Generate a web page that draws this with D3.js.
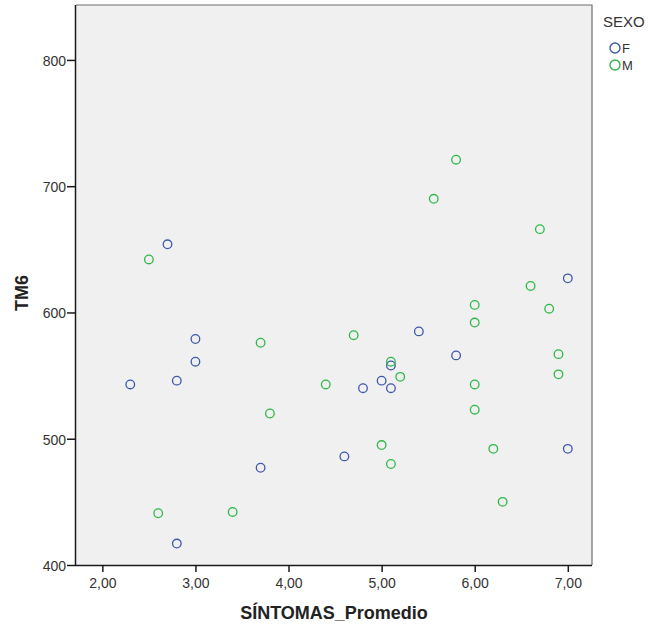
<!DOCTYPE html>
<html>
<head>
<meta charset="utf-8">
<script src="https://cdn.jsdelivr.net/npm/d3@7"></script>
<style>
  html, body { margin: 0; padding: 0; background: #fff; }
  svg { display: block; font-family: "Liberation Sans", Arial, sans-serif; }
</style>
</head>
<body>
<svg id="chart" width="649" height="627"></svg>
<script>
// SÍNTOMAS_Promedio (x) vs TM6 (y), grouped by SEXO
const femSintomas = [2.7, 3.0, 3.0, 2.3, 2.8, 5.4, 5.8, 5.1, 5.0, 5.1, 4.8, 4.6, 7.0, 7.0, 3.7, 2.8];
const femTM6      = [654, 579, 561, 543, 546, 585, 566, 558, 546, 540, 540, 486, 627, 492, 477, 417];
const masSintomas = [2.5, 3.7, 6.0, 6.0, 4.7, 5.1, 5.2, 4.4, 6.0, 6.0, 5.0, 5.1, 6.2, 5.8, 5.56, 6.7, 6.6, 6.8, 6.9, 6.9, 6.3, 2.6, 3.4, 3.8];
const masTM6      = [642, 576, 606, 592, 582, 561, 549, 543, 543, 523, 495, 480, 492, 721, 690, 666, 621, 603, 567, 551, 450, 441, 442, 520];
const groups = ["F", "M"];
const groupColors = ["#3e58ac", "#2eb848"];
const xTicks = [2, 3, 4, 5, 6, 7];
const yTicks = [400, 500, 600, 700, 800];

const svg = d3.select("#chart");
const plot = { left: 76, right: 592, top: 5, bottom: 565 };

const x = d3.scaleLinear().domain([1.717, 7.26]).range([plot.left, plot.right]);
const y = d3.scaleLinear().domain([400, 843.5]).range([plot.bottom, plot.top]);
const color = d3.scaleOrdinal().domain(groups).range(groupColors);

// plot background
svg.append("rect")
  .attr("x", plot.left).attr("y", plot.top)
  .attr("width", plot.right - plot.left).attr("height", plot.bottom - plot.top)
  .attr("fill", "#f0f0f0");

// top and right border
svg.append("path")
  .attr("d", `M${plot.left},${plot.top}H${plot.right}V${plot.bottom}`)
  .attr("fill", "none").attr("stroke", "#6e6e6e").attr("stroke-width", 1.2);

const fmt = d => d.toFixed(2).replace(".", ",");

// x axis
const gx = svg.append("g")
  .attr("transform", `translate(0,${plot.bottom})`)
  .call(d3.axisBottom(x).tickValues(xTicks).tickFormat(fmt).tickSize(7).tickSizeOuter(0));
gx.select(".domain").attr("stroke", "#1a1a1a").attr("stroke-width", 1.5)
  .attr("d", `M${plot.left},0.5H${plot.right}`);
gx.selectAll(".tick line").attr("stroke", "#1a1a1a").attr("stroke-width", 1.5);
gx.selectAll(".tick text").attr("font-size", 14).attr("fill", "#333")
  .attr("y", 23).attr("dy", 0)
  .attr("font-family", "Liberation Sans, Arial, sans-serif");

// y axis
const gy = svg.append("g")
  .attr("transform", `translate(${plot.left},0)`)
  .call(d3.axisLeft(y).tickValues(yTicks).tickFormat(d3.format("d")).tickSize(9).tickSizeOuter(0));
gy.select(".domain").attr("stroke", "#1a1a1a").attr("stroke-width", 1.5)
  .attr("d", `M-0.5,${plot.top}V${plot.bottom}`);
gy.selectAll(".tick line").attr("stroke", "#1a1a1a").attr("stroke-width", 1.5);
gy.selectAll(".tick text").attr("font-size", 14).attr("fill", "#333").attr("x", -10)
  .attr("dy", "0.38em")
  .attr("font-family", "Liberation Sans, Arial, sans-serif");

// axis titles
svg.append("text")
  .attr("x", (plot.left + plot.right) / 2).attr("y", 619)
  .attr("text-anchor", "middle").attr("font-size", 18).attr("font-weight", "bold")
  .attr("fill", "#222").text("SÍNTOMAS_Promedio");
svg.append("text")
  .attr("transform", "translate(28,293) rotate(-90)")
  .attr("text-anchor", "middle").attr("font-size", 18).attr("font-weight", "bold")
  .attr("fill", "#222").text("TM6");

// points
const points = [
  ...femSintomas.map((v, i) => ({ s: v, t: femTM6[i], g: "F" })),
  ...masSintomas.map((v, i) => ({ s: v, t: masTM6[i], g: "M" }))
];
svg.append("g").selectAll("circle")
  .data(points).join("circle")
  .attr("cx", d => x(d.s)).attr("cy", d => y(d.t)).attr("r", 4.3)
  .attr("fill", "none").attr("stroke", d => color(d.g)).attr("stroke-width", 1.3);

// legend
const lg = svg.append("g");
lg.append("text").attr("x", 603).attr("y", 27).attr("font-size", 15).attr("fill", "#333").text("SEXO");
groups.forEach((g, i) => {
  lg.append("circle").attr("cx", 615).attr("cy", 48 + i * 17).attr("r", 5)
    .attr("fill", "none").attr("stroke", color(g)).attr("stroke-width", 1.4);
  lg.append("text").attr("x", 622).attr("y", 53 + i * 17).attr("font-size", 13)
    .attr("fill", "#333").text(g);
});
</script>
</body>
</html>
